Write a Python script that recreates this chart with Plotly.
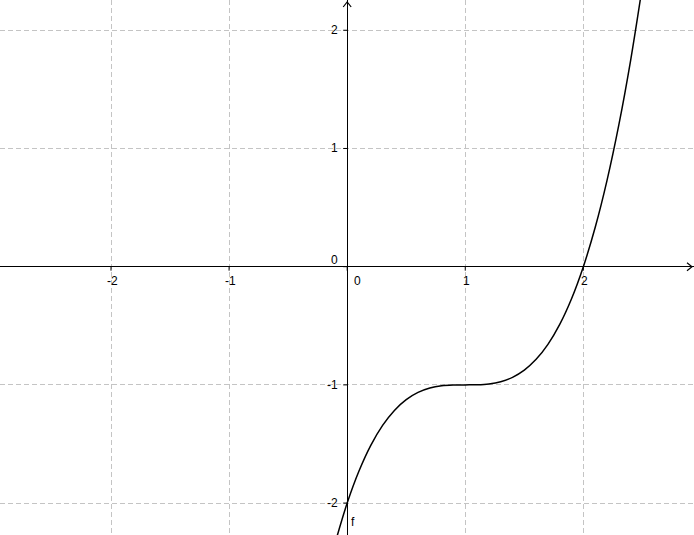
import plotly.graph_objects as go

# curve samples (function f)
x_vals = [-0.1, 0.0, 0.1, 0.2, 0.3, 0.4, 0.5, 0.6, 0.7, 0.8, 0.9, 1.0, 1.1, 1.2, 1.3,
          1.4, 1.5, 1.6, 1.7, 1.8, 1.9, 2.0, 2.1, 2.2, 2.3, 2.4, 2.5]
y_vals = [-2.331, -2.0, -1.729, -1.512, -1.343, -1.216, -1.125, -1.064, -1.027, -1.008,
          -1.001, -1.0, -0.999, -0.992, -0.973, -0.936, -0.875, -0.784, -0.657, -0.488,
          -0.271, 0.0, 0.331, 0.728, 1.197, 1.744, 2.375]

x_ticks = [-2, -1, 0, 1, 2]
y_ticks = [-2, -1, 1, 2]
x_range = [-2.94, 2.937]
y_range = [-2.27, 2.256]

font = dict(family="Liberation Sans, Arial, sans-serif", size=12, color="black")

fig = go.Figure()
fig.add_trace(go.Scatter(x=x_vals, y=y_vals, mode="lines",
                         line=dict(color="black", width=1.5, shape="spline"),
                         hoverinfo="skip", showlegend=False))

shapes = []
# axis ticks
for t in x_ticks:
    shapes.append(dict(type="line", xref="x", yref="y", ysizemode="pixel", yanchor=0,
                       x0=t, x1=t, y0=0, y1=-4, line=dict(color="black", width=1)))
for t in y_ticks + [0]:
    shapes.append(dict(type="line", xref="x", yref="y", xsizemode="pixel", xanchor=0,
                       x0=0, x1=-4, y0=t, y1=t, line=dict(color="black", width=1)))
# arrows
shapes.append(dict(type="path", xref="x", yref="y", xsizemode="pixel", ysizemode="pixel",
                   xanchor=x_range[1], yanchor=0, path="M -7 4 L -2 0 L -7 -4",
                   line=dict(color="black", width=1.2)))
shapes.append(dict(type="path", xref="x", yref="y", xsizemode="pixel", ysizemode="pixel",
                   xanchor=0, yanchor=y_range[1], path="M -4 -7 L 0 -2 L 4 -7",
                   line=dict(color="black", width=1.2)))

annotations = []
for t in x_ticks:
    annotations.append(dict(x=t, y=0, xref="x", yref="y", text=str(t), showarrow=False,
                            xanchor="center", yanchor="top", yshift=-5,
                            xshift=10 if t == 0 else 1, font=font))
for t in y_ticks + [0]:
    annotations.append(dict(x=0, y=t, xref="x", yref="y", text=str(t), showarrow=False,
                            xanchor="right", yanchor="middle", xshift=-7,
                            yshift=7 if t == 0 else 0, font=font))
annotations.append(dict(x=0, y=y_range[0], xref="x", yref="y", text="f", showarrow=False,
                        xanchor="left", yanchor="bottom", xshift=2, yshift=4, font=font))

axis_common = dict(showgrid=True, gridcolor="#c4c4c4", griddash="5px,3px", gridwidth=1,
                   zeroline=True, zerolinecolor="black", zerolinewidth=1.3,
                   showticklabels=False, ticks="", dtick=1, showline=False, fixedrange=True)

fig.update_layout(
    width=694, height=535,
    margin=dict(l=0, r=0, t=0, b=0),
    plot_bgcolor="white", paper_bgcolor="white",
    xaxis=dict(range=x_range, tick0=0, **axis_common),
    yaxis=dict(range=y_range, tick0=0, **axis_common),
    shapes=shapes, annotations=annotations, showlegend=False,
)

fig.write_html("out.html", config={"displayModeBar": False},
               post_script="document.body.style.margin='0';document.body.style.overflow='hidden';")
